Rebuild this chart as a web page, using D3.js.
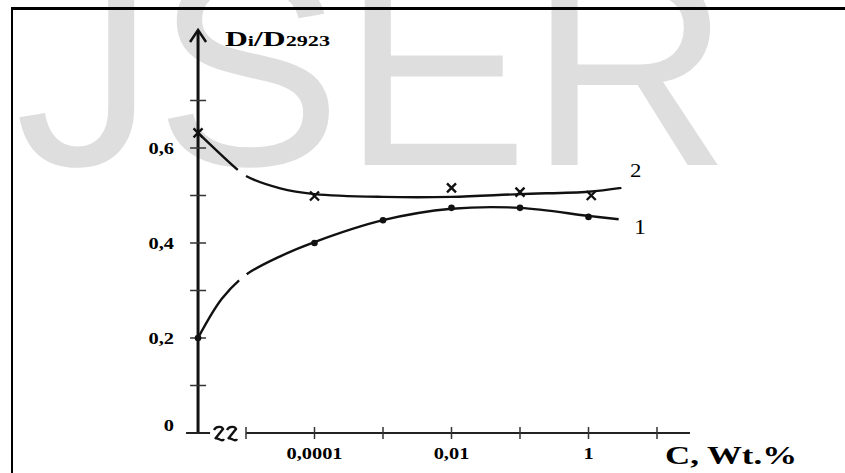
<!DOCTYPE html>
<html>
<head>
<meta charset="utf-8">
<script src="https://cdnjs.cloudflare.com/ajax/libs/d3/7.8.5/d3.min.js"></script>
<style>
  body { margin: 0; background: #fff; }
  svg { display: block; }
  text { font-family: "Liberation Serif", "Times New Roman", serif; }
</style>
</head>
<body>
<div id="chart"></div>
<script>
var svgWidth = 845;
var svgHeight = 473;

// y axis ticks and labels
var yTicks = [0.1, 0.2, 0.3, 0.4, 0.5, 0.6, 0.7];
var yLabels = [0, 0.2, 0.4, 0.6];
// x axis: log10 of concentration, -5.7 stands for C = 0 (at the broken axis)
var xTicks = [-5, -4, -3, -2, -1, 0, 1];
var xLabelExp = [-4, -2, 0];
var xLabelText = ["0,0001", "0,01", "1"];

// measured points
var dots1Exp = [-5.7, -4, -3, -2, -1, 0];
var dots1Val = [0.200, 0.400, 0.448, 0.474, 0.474, 0.455];
var cross2Exp = [-5.7, -4, -2, -1, 0.04];
var cross2Val = [0.632, 0.499, 0.516, 0.507, 0.500];

// fitted curves
var curve1Exp = [-5.7, -5.35, -5.0, -4.5, -4.0, -3.0, -2.0, -1.0, 0.0, 0.44];
var curve1Val = [0.200, 0.283, 0.333, 0.372, 0.402, 0.448, 0.472, 0.474, 0.457, 0.450];
var curve2Exp = [-5.7, -5.12, -5.0, -4.5, -4.0, -3.0, -2.0, -1.0, 0.0, 0.48];
var curve2Val = [0.632, 0.554, 0.541, 0.515, 0.503, 0.497, 0.497, 0.503, 0.508, 0.516];
var gaps1 = [[-5.1, -4.99]];
var gaps2 = [[-5.12, -5.0]];

var svg = d3.select("#chart")
  .append("svg")
  .attr("width", svgWidth)
  .attr("height", svgHeight);

// the scanned figure is a bit wider than tall, so serif text is stretched
var stretch = 1.2;
function wideText(px, py, anchor) {
  return svg.append("text")
    .attr("transform", `translate(${px},${py}) scale(${stretch},1)`)
    .attr("text-anchor", anchor || "start");
}

// watermark
svg.append("text")
  .attr("x", 15)
  .attr("y", 165)
  .style("font-family", "Liberation Sans, Arial, sans-serif")
  .attr("font-size", 280)
  .attr("fill", "#dedede")
  .text("JSER");

// frame
svg.append("line").attr("x1", 11).attr("x2", 845).attr("y1", 8.5).attr("y2", 8.5)
  .attr("stroke", "#000").attr("stroke-width", 3);
svg.append("line").attr("x1", 12).attr("x2", 12).attr("y1", 7).attr("y2", 473)
  .attr("stroke", "#000").attr("stroke-width", 2);

var x = d3.scaleLinear().domain([-5, 1]).range([246, 657]);
var y = d3.scaleLinear().domain([0, 0.7]).range([433, 100.5]);

var axisX = x(-5.7);
var axisY = y(0);

// y axis with arrow
svg.append("line").attr("x1", axisX).attr("x2", axisX).attr("y1", axisY + 1).attr("y2", 31)
  .attr("stroke", "#111").attr("stroke-width", 3);
svg.append("path")
  .attr("d", `M${axisX - 8},${42} L${axisX},${30} L${axisX + 8},${42}`)
  .attr("fill", "none").attr("stroke", "#111").attr("stroke-width", 2.5);

svg.selectAll(".ytick").data(yTicks).enter().append("line")
  .attr("x1", axisX - 8).attr("x2", axisX + 8)
  .attr("y1", d => y(d)).attr("y2", d => y(d))
  .attr("stroke", "#333").attr("stroke-width", 1.5);

// bottom of the L and the zero tick
svg.append("line").attr("x1", axisX - 12).attr("x2", axisX + 12)
  .attr("y1", axisY).attr("y2", axisY)
  .attr("stroke", "#222").attr("stroke-width", 2);

yLabels.forEach(function(d) {
  wideText(174, d === 0 ? y(d) - 2 : y(d) + 6, "end")
    .attr("font-size", 17)
    .attr("font-weight", "bold")
    .text(d === 0 ? "0" : String(d).replace(".", ","));
});

// axis break squiggles
[214, 227].forEach(function(bx) {
  svg.append("path")
    .attr("d", `M${bx},${430} C${bx + 2},${426} ${bx + 8},${426} ${bx + 9},${429} L${bx + 1},${439} C${bx + 3},${436} ${bx + 8},${443} ${bx + 10},${439}`)
    .attr("fill", "none").attr("stroke", "#111").attr("stroke-width", 2.4);
});

// x axis
svg.append("line").attr("x1", x(-5)).attr("x2", 690)
  .attr("y1", axisY).attr("y2", axisY)
  .attr("stroke", "#222").attr("stroke-width", 2);
svg.selectAll(".xtick").data(xTicks).enter().append("line")
  .attr("x1", d => x(d)).attr("x2", d => x(d))
  .attr("y1", axisY - 6).attr("y2", axisY + 6)
  .attr("stroke", "#333").attr("stroke-width", 1.5);
xLabelExp.forEach(function(d, i) {
  wideText(x(d), 459, "middle")
    .attr("font-size", 17)
    .attr("font-weight", "bold")
    .text(xLabelText[i]);
});

// axis titles
var yTitle = svg.append("text")
  .attr("x", 225).attr("y", 46)
  .attr("font-weight", "bold")
  .attr("textLength", 105)
  .attr("lengthAdjust", "spacingAndGlyphs");
yTitle.append("tspan").attr("font-size", 20).text("D");
yTitle.append("tspan").attr("font-size", 14).text("i");
yTitle.append("tspan").attr("font-size", 20).text("/D");
yTitle.append("tspan").attr("font-size", 14).text("2923");

svg.append("text")
  .attr("x", 665).attr("y", 464)
  .attr("font-weight", "bold")
  .attr("font-size", 25)
  .attr("textLength", 132)
  .attr("lengthAdjust", "spacingAndGlyphs")
  .text("C, Wt.%");

// curves
var line = d3.line()
  .x(d => x(d[0]))
  .y(d => y(d[1]))
  .curve(d3.curveCatmullRom.alpha(0.5));

function lengthAtX(node, px) {
  var lo = 0, hi = node.getTotalLength();
  for (var k = 0; k < 40; k++) {
    var mid = (lo + hi) / 2;
    if (node.getPointAtLength(mid).x < px) lo = mid; else hi = mid;
  }
  return lo;
}

function drawCurve(exps, vals, gaps) {
  var path = svg.append("path")
    .datum(exps.map((e, i) => [e, vals[i]]))
    .attr("d", line)
    .attr("fill", "none")
    .attr("stroke", "#111")
    .attr("stroke-width", 2.4);
  var node = path.node();
  var total = node.getTotalLength();
  var dash = [];
  var prev = 0;
  gaps.forEach(function(g) {
    var a = lengthAtX(node, x(g[0]));
    var b = lengthAtX(node, x(g[1]));
    dash.push(a - prev, b - a);
    prev = b;
  });
  dash.push(total - prev + 10, 0);
  path.attr("stroke-dasharray", dash.join(" "));
}

drawCurve(curve1Exp, curve1Val, gaps1);
drawCurve(curve2Exp, curve2Val, gaps2);

// markers
svg.selectAll(".dot").data(dots1Exp).enter().append("circle")
  .attr("cx", d => x(d))
  .attr("cy", (d, i) => y(dots1Val[i]))
  .attr("r", 3.3)
  .attr("fill", "#111");

svg.selectAll(".cross").data(cross2Exp).enter().append("path")
  .attr("d", function(d, i) {
    var cx = x(d), cy = y(cross2Val[i]), s = 4.5;
    return `M${cx - s},${cy - s} L${cx + s},${cy + s} M${cx - s},${cy + s} L${cx + s},${cy - s}`;
  })
  .attr("stroke", "#111")
  .attr("stroke-width", 2.4);

// series labels
wideText(630, 177).attr("font-size", 19).text("2");
wideText(634, 234).attr("font-size", 20).text("1");
</script>
</body>
</html>
